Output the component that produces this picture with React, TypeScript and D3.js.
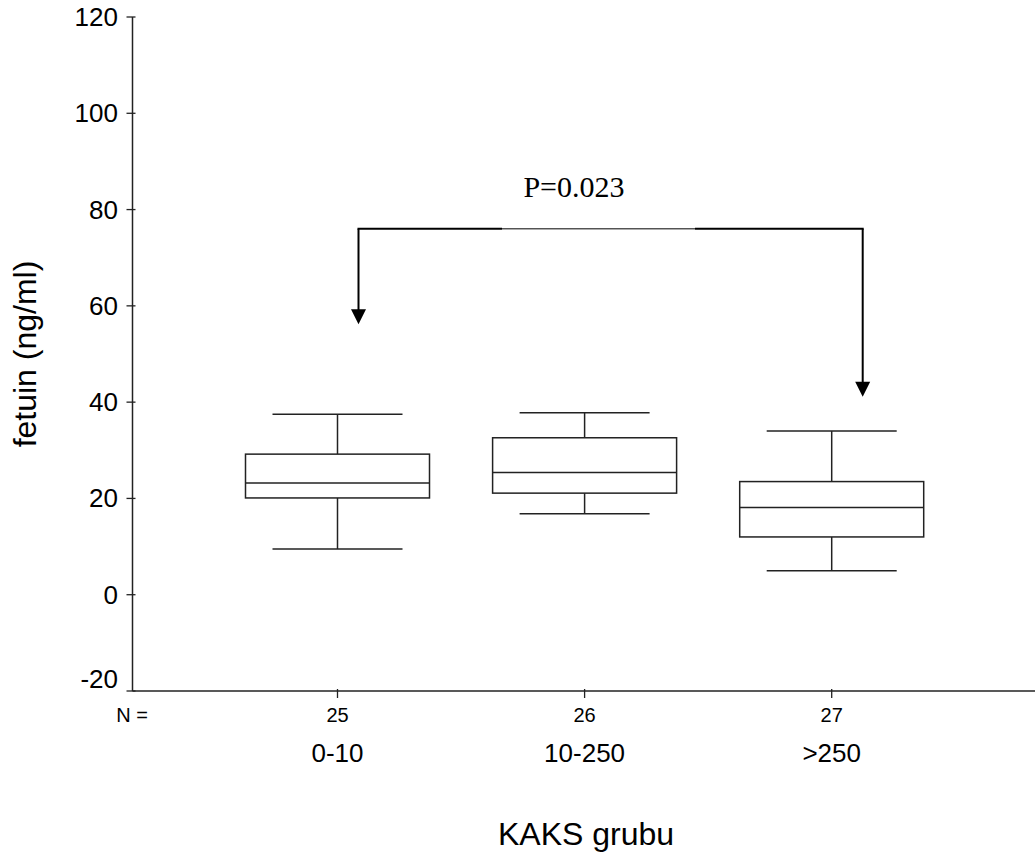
import React from 'react';
import * as d3 from 'd3';

// groups (KAKS grubu) and their counts
const groups = ['0-10', '10-250', '>250'];
const counts = [25, 26, 27];

// box summary: whisker low, Q1, median, Q3, whisker high
const lowWhisker = [9.5, 16.8, 5.0];
const q1 = [20.1, 21.1, 12.0];
const median = [23.2, 25.4, 18.1];
const q3 = [29.2, 32.6, 23.5];
const highWhisker = [37.5, 37.8, 34.0];

const yTicks = [-20, 0, 20, 40, 60, 80, 100, 120];

// comparison bracket: from group 0 to group 2
const pText = 'P=0.023';
const bracketLevel = 76;
const arrowTipLeft = 56.2;
const arrowTipRight = 41.1;

const W = 1035;
const H = 864;
const axisX = 132.5;
const axisY = 691;

export default function App() {
  const y = d3.scaleLinear().domain([-20, 120]).range([691, 17]);
  const x = d3.scalePoint<string>().domain(groups).range([337.5, 831.7]);
  const boxW = 184;
  const capW = 130;
  const stroke = '#222';
  const sans = 'Arial, "Liberation Sans", sans-serif';

  const xl = x(groups[0])! + 21;
  const xr = x(groups[2])! + 31;
  const yb = y(bracketLevel);
  const head = (tx: number, ty: number) =>
    `M${tx},${ty} L${tx - 7.5},${ty - 15} L${tx + 7.5},${ty - 15} Z`;

  return (
    <svg width={W} height={H} style={{ position: 'absolute', left: 0, top: 0, background: '#fff' }}>
      <rect width={W} height={H} fill="#fff" />

      {/* y axis */}
      <line x1={axisX} x2={axisX} y1={y(120)} y2={axisY} stroke={stroke} strokeWidth={1.5} />
      {yTicks.map((t) => (
        <g key={t}>
          <line x1={axisX - 6} x2={axisX + 3} y1={y(t)} y2={y(t)} stroke={stroke} strokeWidth={1.3} />
          <text
            x={118}
            y={t === -20 ? y(t) - 12 : y(t)}
            textAnchor="end"
            dominantBaseline="central"
            fontFamily={sans}
            fontSize={26}
          >
            {t}
          </text>
        </g>
      ))}
      <text
        transform={`translate(36,${(y(120) + axisY) / 2}) rotate(-90)`}
        textAnchor="middle"
        fontFamily={sans}
        fontSize={32}
      >
        fetuin (ng/ml)
      </text>

      {/* x axis */}
      <line x1={axisX} x2={W} y1={axisY} y2={axisY} stroke={stroke} strokeWidth={1.5} />
      <text x={132} y={722} textAnchor="middle" fontFamily={sans} fontSize={20}>
        N =
      </text>
      {groups.map((g, i) => (
        <g key={g}>
          <line x1={x(g)} x2={x(g)} y1={axisY - 2} y2={axisY + 7} stroke={stroke} strokeWidth={1.3} />
          <text x={x(g)} y={722} textAnchor="middle" fontFamily={sans} fontSize={20}>
            {counts[i]}
          </text>
          <text x={x(g)} y={762} textAnchor="middle" fontFamily={sans} fontSize={26}>
            {g}
          </text>
        </g>
      ))}
      <text x={586} y={845} textAnchor="middle" fontFamily={sans} fontSize={32}>
        KAKS grubu
      </text>

      {/* boxes */}
      {groups.map((g, i) => {
        const cx = x(g)!;
        return (
          <g key={g} stroke={stroke} strokeWidth={1.5} fill="none">
            <line x1={cx} x2={cx} y1={y(highWhisker[i])} y2={y(q3[i])} />
            <line x1={cx} x2={cx} y1={y(q1[i])} y2={y(lowWhisker[i])} />
            <line x1={cx - capW / 2} x2={cx + capW / 2} y1={y(highWhisker[i])} y2={y(highWhisker[i])} />
            <line x1={cx - capW / 2} x2={cx + capW / 2} y1={y(lowWhisker[i])} y2={y(lowWhisker[i])} />
            <rect x={cx - boxW / 2} y={y(q3[i])} width={boxW} height={y(q1[i]) - y(q3[i])} fill="#fff" />
            <line x1={cx - boxW / 2} x2={cx + boxW / 2} y1={y(median[i])} y2={y(median[i])} />
          </g>
        );
      })}

      {/* comparison bracket */}
      <g stroke="#000" fill="none">
        <line x1={xl} x2={xl} y1={yb} y2={y(arrowTipLeft) - 14} strokeWidth={2} />
        <line x1={xr} x2={xr} y1={yb} y2={y(arrowTipRight) - 14} strokeWidth={2} />
        <line x1={xl - 1} x2={502} y1={yb} y2={yb} strokeWidth={2} />
        <line x1={502} x2={695} y1={yb} y2={yb} strokeWidth={1} />
        <line x1={695} x2={xr + 1} y1={yb} y2={yb} strokeWidth={2} />
      </g>
      <path d={head(xl, y(arrowTipLeft))} fill="#000" />
      <path d={head(xr, y(arrowTipRight))} fill="#000" />
      <text x={574} y={197} textAnchor="middle" fontFamily='"Times New Roman", "Liberation Serif", serif' fontSize={30}>
        {pText}
      </text>
    </svg>
  );
}
